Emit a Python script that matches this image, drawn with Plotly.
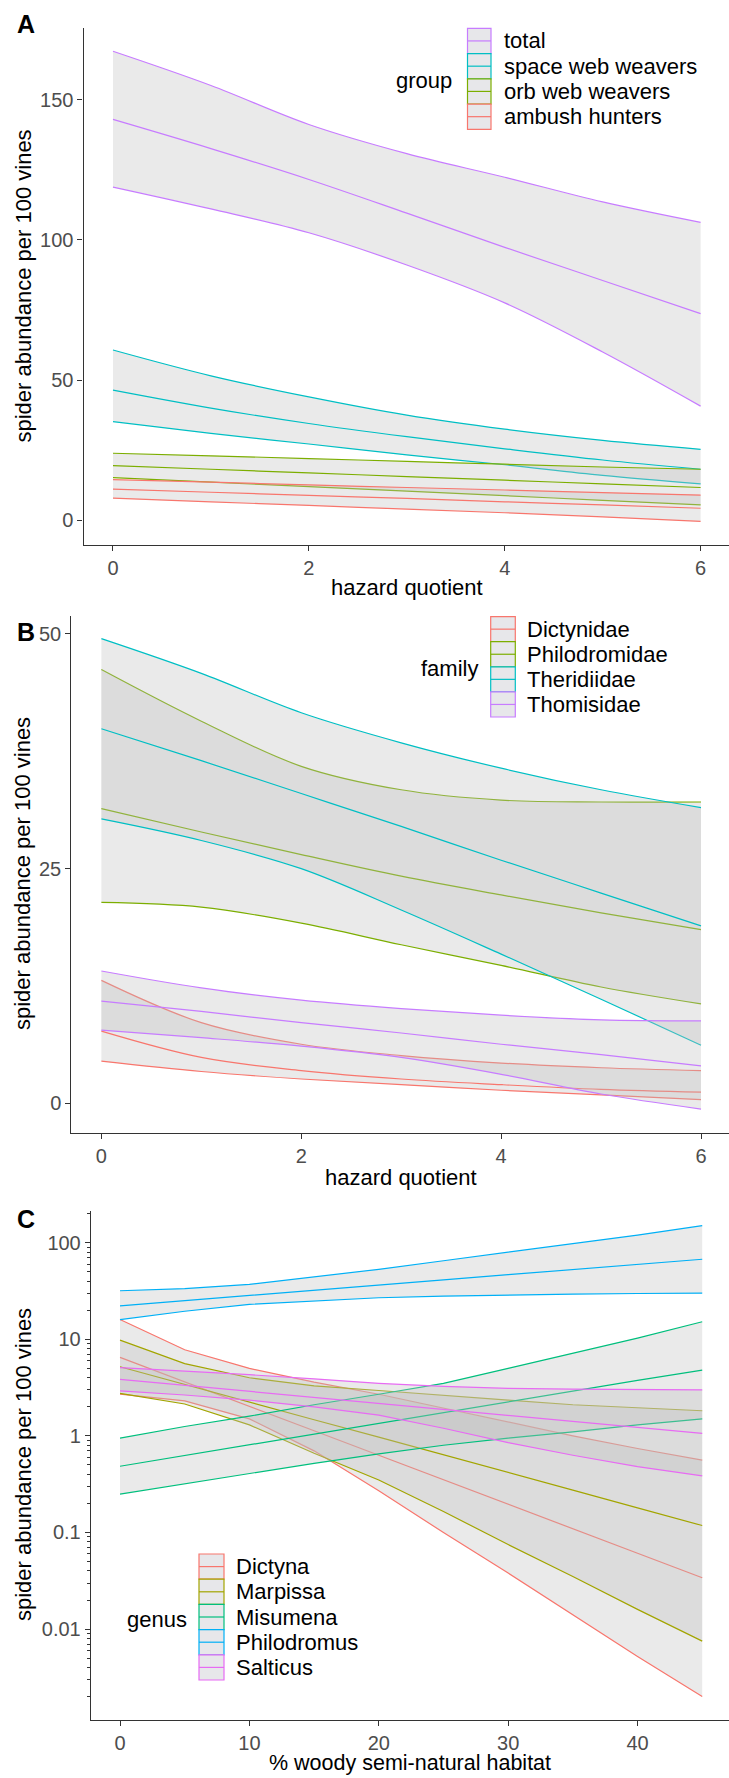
import plotly.graph_objects as go

W, H = 729, 1778

# ---------------- Panel A : functional groups vs hazard quotient ----------------
hq_a = [0, 1, 2, 3, 4, 5, 6]
groups_a = ["total", "space web weavers", "orb web weavers", "ambush hunters"]
total_lo = [118.8, 111.0, 102.5, 91.0, 77.5, 60.0, 40.7]
total_fit = [142.9, 132.5, 121.5, 109.5, 97.3, 85.5, 73.7]
total_hi = [167.2, 155.0, 141.1, 130.7, 122.3, 113.5, 106.2]
space_lo = [35.2, 31.0, 27.2, 23.3, 19.8, 16.0, 13.0]
space_fit = [46.4, 40.0, 34.5, 29.8, 25.5, 21.5, 18.2]
space_hi = [60.7, 51.5, 44.0, 37.5, 32.5, 28.5, 25.3]
orb_lo = [15.2, 13.6, 12.0, 10.4, 8.8, 7.1, 5.5]
orb_fit = [19.5, 18.2, 16.9, 15.6, 14.3, 13.0, 11.7]
orb_hi = [23.9, 23.0, 22.0, 21.0, 20.0, 19.0, 18.2]
ambush_lo = [7.9, 6.6, 5.3, 4.0, 2.7, 1.2, -0.4]
ambush_fit = [11.1, 10.0, 8.9, 7.8, 6.6, 5.5, 4.3]
ambush_hi = [14.5, 13.6, 12.6, 11.7, 10.8, 9.9, 9.0]
colors_a = ["#C77CFF", "#00BFC4", "#7CAE00", "#F8766D"]

# ---------------- Panel B : families vs hazard quotient ----------------
hq_b = [0, 1, 2, 3, 4, 5, 6]
families_b = ["Dictynidae", "Philodromidae", "Theridiidae", "Thomisidae"]
dicty_lo = [4.5, 3.4, 2.6, 2.0, 1.4, 0.9, 0.4]
dicty_fit = [7.7, 4.9, 3.5, 2.6, 2.0, 1.5, 1.2]
dicty_hi = [13.1, 8.6, 6.3, 5.1, 4.3, 3.8, 3.5]
philo_lo = [21.4, 20.9, 19.2, 16.9, 14.7, 12.4, 10.6]
philo_fit = [31.4, 28.9, 26.5, 24.2, 22.2, 20.3, 18.5]
philo_hi = [46.2, 40.7, 35.9, 33.4, 32.3, 32.1, 32.1]
theri_lo = [30.3, 28.0, 25.0, 20.6, 15.9, 11.1, 6.2]
theri_fit = [39.9, 36.5, 33.0, 29.5, 25.9, 22.4, 18.9]
theri_hi = [49.5, 45.8, 41.6, 38.4, 35.7, 33.4, 31.5]
thomi_lo = [7.8, 7.0, 6.1, 4.9, 3.1, 1.0, -0.6]
thomi_fit = [10.9, 9.8, 8.6, 7.5, 6.3, 5.2, 4.0]
thomi_hi = [14.1, 12.3, 11.0, 10.1, 9.4, 8.9, 8.8]
colors_b = ["#F8766D", "#7CAE00", "#00BFC4", "#C77CFF"]

# ---------------- Panel C : genera vs % woody habitat ----------------
woody_c = [0, 5, 10, 15, 20, 25, 30, 35, 40, 45]
genera_c = ["Dictyna", "Marpissa", "Misumena", "Philodromus", "Salticus"]
dictyna_lo = [2.7, 2.3, 1.5, 0.7, 0.27, 0.1, 0.038, 0.014, 0.0052, 0.002]
dictyna_fit = [6.5, 3.65, 2.03, 1.13, 0.63, 0.35, 0.196, 0.109, 0.061, 0.034]
dictyna_hi = [16.0, 7.8, 5.0, 3.6, 2.7, 1.95, 1.4, 1.0, 0.74, 0.56]
marpissa_lo = [2.75, 2.14, 1.3, 0.66, 0.35, 0.165, 0.075, 0.035, 0.016, 0.0075]
marpissa_fit = [5.2, 3.4, 2.25, 1.47, 0.97, 0.64, 0.42, 0.275, 0.18, 0.118]
marpissa_hi = [9.8, 5.6, 4.0, 3.3, 2.95, 2.65, 2.35, 2.1, 1.95, 1.82]
misumena_lo = [0.25, 0.32, 0.41, 0.52, 0.65, 0.8, 0.95, 1.1, 1.3, 1.5]
misumena_fit = [0.485, 0.627, 0.81, 1.04, 1.35, 1.74, 2.25, 2.9, 3.75, 4.8]
misumena_hi = [0.95, 1.25, 1.6, 2.1, 2.7, 3.5, 5.0, 7.2, 10.3, 15.2]
philodromus_lo = [16.0, 19.5, 23.0, 25.0, 26.9, 28.0, 28.9, 29.4, 29.8, 30.0]
philodromus_fit = [22.2, 25.2, 28.4, 32.2, 36.4, 41.2, 46.6, 52.7, 59.6, 67.4]
philodromus_hi = [31.8, 33.5, 37.0, 44.0, 53.0, 65.0, 80.0, 97.0, 120.0, 150.0]
salticus_lo = [2.92, 2.65, 2.35, 2.0, 1.64, 1.2, 0.85, 0.63, 0.48, 0.385]
salticus_fit = [3.85, 3.33, 2.88, 2.49, 2.16, 1.87, 1.62, 1.4, 1.21, 1.06]
salticus_hi = [5.1, 4.7, 4.3, 3.9, 3.5, 3.25, 3.1, 3.05, 3.0, 3.0]
colors_c = ["#F8766D", "#A3A500", "#00BF7D", "#00B0F6", "#E76BF3"]

ticks_a_x = [0, 2, 4, 6]
ticks_a_y = [0, 50, 100, 150]
ticks_b_y = [0, 25, 50]
ticks_c_x = [0, 10, 20, 30, 40]
ticks_c_y = [0.01, 0.1, 1, 10, 100]
ticklabels_c_y = ["0.01", "0.1", "1", "10", "100"]

RIBBON = "rgba(190,190,190,0.32)"
FONT = "Liberation Sans, Arial, sans-serif"

fig = go.Figure()


def add_band(x, lo, fit, hi, color, xa, ya, shape):
    ln = dict(color=color, width=1.2, shape=shape)
    fig.add_trace(go.Scatter(x=x, y=lo, mode="lines", line=ln, xaxis=xa, yaxis=ya,
                             showlegend=False, hoverinfo="skip"))
    fig.add_trace(go.Scatter(x=x, y=hi, mode="lines", line=ln, xaxis=xa, yaxis=ya,
                             fill="tonexty", fillcolor=RIBBON, showlegend=False, hoverinfo="skip"))
    fig.add_trace(go.Scatter(x=x, y=fit, mode="lines", line=ln, xaxis=xa, yaxis=ya,
                             showlegend=False))


bands_a = [(total_lo, total_fit, total_hi), (space_lo, space_fit, space_hi),
           (orb_lo, orb_fit, orb_hi), (ambush_lo, ambush_fit, ambush_hi)]
for (lo, fit, hi), c in zip(bands_a, colors_a):
    add_band(hq_a, lo, fit, hi, c, "x", "y", "spline")

bands_b = [(dicty_lo, dicty_fit, dicty_hi), (philo_lo, philo_fit, philo_hi),
           (theri_lo, theri_fit, theri_hi), (thomi_lo, thomi_fit, thomi_hi)]
for (lo, fit, hi), c in zip(bands_b, colors_b):
    add_band(hq_b, lo, fit, hi, c, "x2", "y2", "spline")

bands_c = [(dictyna_lo, dictyna_fit, dictyna_hi), (marpissa_lo, marpissa_fit, marpissa_hi),
           (misumena_lo, misumena_fit, misumena_hi), (philodromus_lo, philodromus_fit, philodromus_hi),
           (salticus_lo, salticus_fit, salticus_hi)]
for (lo, fit, hi), c in zip(bands_c, colors_c):
    add_band(woody_c, lo, fit, hi, c, "x3", "y3", "linear")


def px(x):
    return x / W


def py(y):
    return 1 - y / H


axis_common = dict(showline=True, linecolor="#333333", linewidth=1.3, ticks="outside",
                   ticklen=5, tickwidth=1.2, tickcolor="#333333", showgrid=False, zeroline=False,
                   tickfont=dict(family=FONT, size=20, color="#4D4D4D"))

minor_c = [m * 10.0 ** e for e in range(-3, 3) for m in range(2, 10)]

fig.update_layout(
    width=W, height=H, margin=dict(l=0, r=0, t=0, b=0),
    paper_bgcolor="white", plot_bgcolor="white", showlegend=False,
    font=dict(family=FONT, color="black"),
    xaxis=dict(domain=[px(83.6), 1], range=[-0.3, 6.29], tickvals=ticks_a_x, anchor="y", **axis_common),
    yaxis=dict(domain=[py(545), py(28)], range=[-8.8, 175.5], tickvals=ticks_a_y, anchor="x", **axis_common),
    xaxis2=dict(domain=[px(71.4), 1], range=[-0.3, 6.28], tickvals=ticks_a_x, anchor="y2", **axis_common),
    yaxis2=dict(domain=[py(1133), py(615.5)], range=[-3.15, 51.96], tickvals=ticks_b_y, anchor="x2", **axis_common),
    xaxis3=dict(domain=[px(90.9), 1], range=[-2.25, 47.07], tickvals=ticks_c_x, anchor="y3", **axis_common),
    yaxis3=dict(domain=[py(1719.7), py(1211)], type="log", range=[-2.938, 2.328], tickvals=ticks_c_y,
                ticktext=ticklabels_c_y, anchor="x3",
                minor=dict(tickvals=minor_c, ticks="outside", ticklen=3, tickcolor="#333333", showgrid=False),
                **axis_common),
)

ann = []
shapes = []


def text(x, y, s, size=22, xanchor="center", yanchor="middle", angle=0, bold=False):
    ann.append(dict(x=px(x), y=py(y), xref="paper", yref="paper", text=("<b>%s</b>" % s) if bold else s,
                    showarrow=False, xanchor=xanchor, yanchor=yanchor, textangle=angle,
                    borderpad=0, font=dict(family=FONT, size=size, color="black")))


# panel letters
text(26, 24, "A", size=25, bold=True)
text(25.5, 631.5, "B", size=25, bold=True)
text(25.5, 1219, "C", size=25, bold=True)

# axis titles
text(23, 286.5, "spider abundance per 100 vines", angle=-90)
text(407, 587, "hazard quotient")
text(23, 874, "spider abundance per 100 vines", angle=-90)
text(401, 1177, "hazard quotient")
text(23, 1465, "spider abundance per 100 vines", angle=-90)
text(410, 1763, "% woody semi-natural habitat", size=21.5)


def legend(title, title_right, title_y, labels, colors, kx0, kx1, ky0, kh, tx):
    text(title_right, title_y, title, xanchor="right")
    for i, (lab, c) in enumerate(zip(labels, colors)):
        y0 = ky0 + i * kh
        y1 = y0 + kh
        shapes.append(dict(type="rect", xref="paper", yref="paper", x0=px(kx0), x1=px(kx1),
                           y0=py(y1), y1=py(y0), fillcolor="rgba(228,228,232,0.9)",
                           line=dict(color=c, width=1.2)))
        shapes.append(dict(type="line", xref="paper", yref="paper", x0=px(kx0), x1=px(kx1),
                           y0=py(y0 + kh / 2), y1=py(y0 + kh / 2), line=dict(color=c, width=1.2)))
        text(tx, y0 + kh / 2, lab, xanchor="left")


legend("group", 453, 80.5, groups_a, colors_a, 467.5, 491, 28.3, 25.25, 503)
legend("family", 479, 669, families_b, colors_b, 490.7, 515.3, 616.6, 25.1, 526)
legend("genus", 188, 1619, genera_c, colors_c, 199, 224, 1554, 25.2, 235)

fig.update_layout(annotations=ann, shapes=shapes)
fig.write_html("out.html", config={"displayModeBar": False},
               post_script="document.body.style.margin='0';document.body.style.overflow='hidden';")
